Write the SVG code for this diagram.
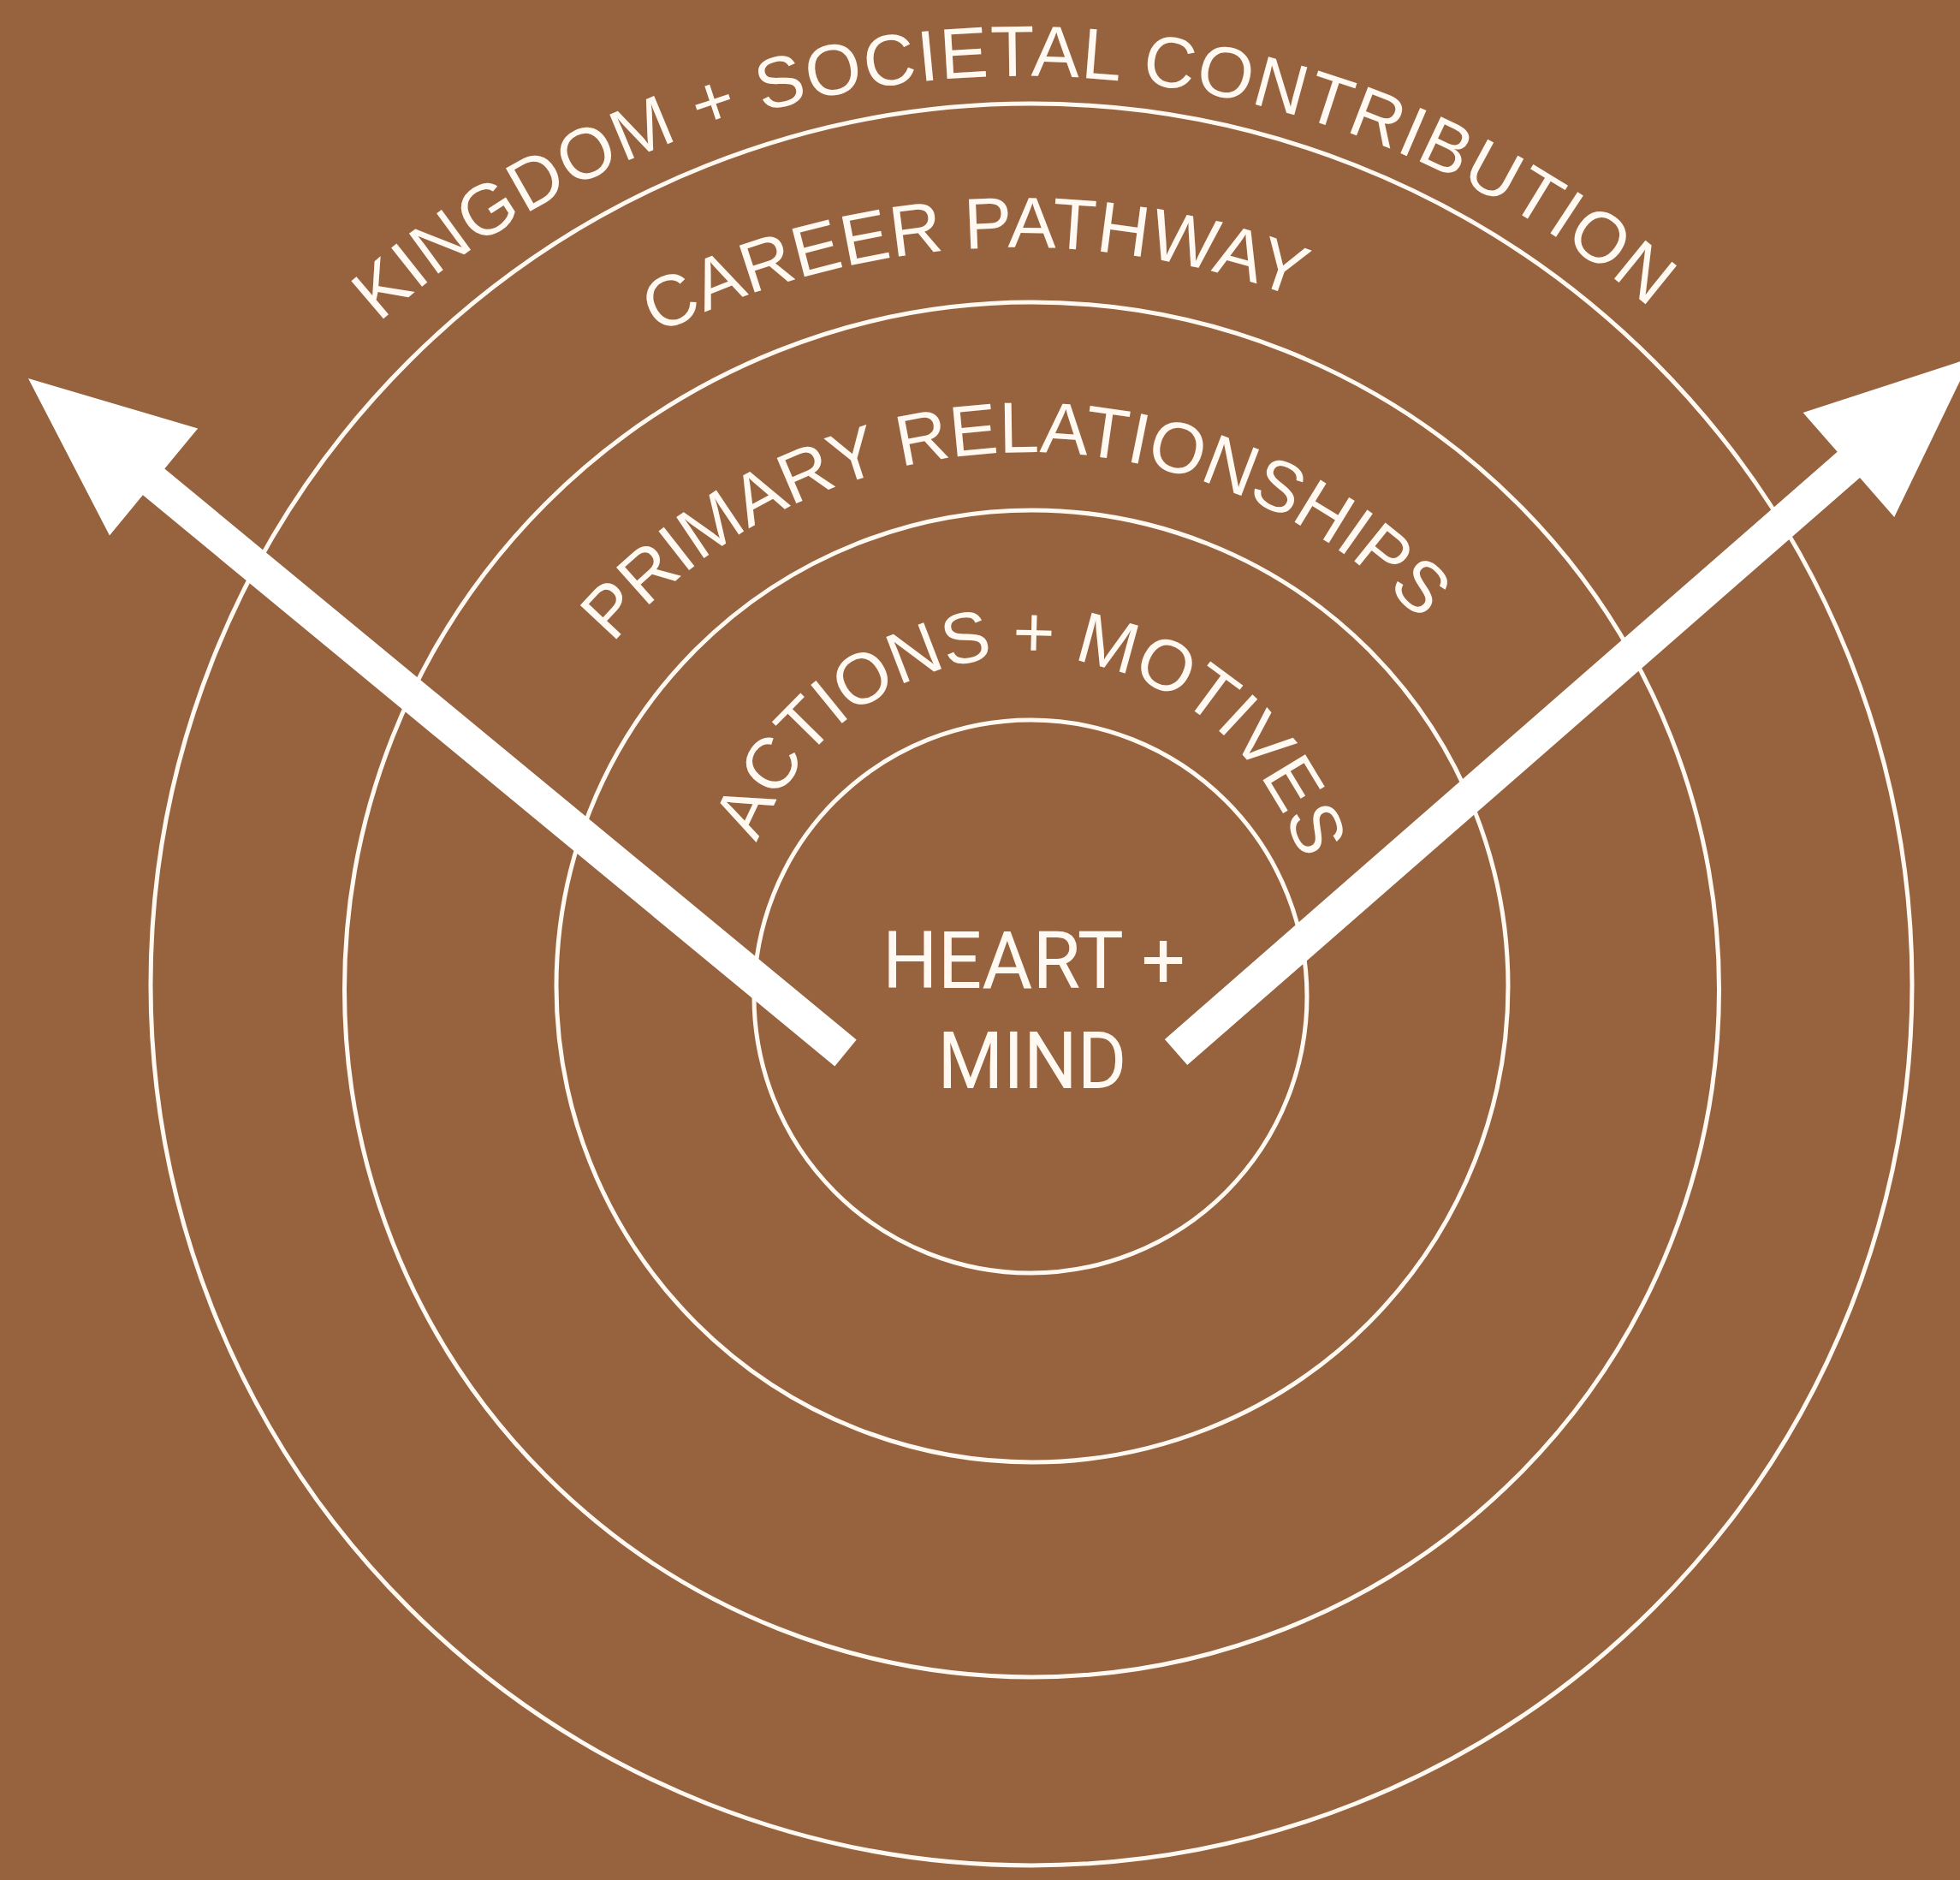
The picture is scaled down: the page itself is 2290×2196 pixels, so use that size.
<svg xmlns="http://www.w3.org/2000/svg" xmlns:xlink="http://www.w3.org/1999/xlink" width="2290" height="2196" viewBox="0 0 2290 2196">
  <style>
    .ring { fill: none; stroke: #FFF9F2; stroke-width: 5; }
    .arc-label { fill: #FFF9F2; font-family: "Liberation Sans", Arial, sans-serif; font-size: 84px; text-rendering: geometricPrecision; }
    .center-label { fill: #FFF9F2; font-family: Roboto, "Liberation Sans", sans-serif; font-size: 93px; text-anchor: middle; }
    .arrow { fill: #FFFFFF; }
  </style>
  <defs>
    <path id="p-outer" d="M 443 377 A 1126 1126 0 0 1 1928 360"/>
    <path id="p-career" d="M 768 391 A 924 924 0 0 1 1515 348"/>
    <path id="p-primary" d="M 716 752 A 636 636 0 0 1 1660 725"/>
    <path id="p-actions" d="M 884.5 984.8 A 336 336 0 0 1 1520.3 1004.8"/>
  </defs>
  <rect id="background" x="0" y="0" width="2290" height="2196" fill="#97633F"/>

  <g id="ring-kingdom">
    <circle class="ring" cx="1205" cy="1150" r="1029"/>
    <text class="arc-label"><textPath xlink:href="#p-outer" href="#p-outer" textLength="1621">KINGDOM + SOCIETAL CONTRIBUTION</textPath></text>
  </g>
  <g id="ring-career">
    <circle class="ring" cx="1205.5" cy="1156" r="803"/>
    <text class="arc-label"><textPath xlink:href="#p-career" href="#p-career" textLength="771">CAREER PATHWAY</textPath></text>
  </g>
  <g id="ring-primary">
    <circle class="ring" cx="1206" cy="1152" r="556"/>
    <text class="arc-label"><textPath xlink:href="#p-primary" href="#p-primary" textLength="1065">PRIMARY RELATIONSHIPS</textPath></text>
  </g>
  <g id="ring-actions">
    <circle class="ring" cx="1204" cy="1164" r="323"/>
    <text class="arc-label"><textPath xlink:href="#p-actions" href="#p-actions" textLength="835">ACTIONS + MOTIVES</textPath></text>
  </g>
  <g id="heart-mind">
    <text class="center-label" x="1208" y="1154" textLength="354" lengthAdjust="spacingAndGlyphs">HEART +</text>
    <text class="center-label" x="1206" y="1271" textLength="221" lengthAdjust="spacingAndGlyphs">MIND</text>
  </g>

  <g id="connectors">
    <polygon class="arrow" points="1000.7,1214.6 192.3,547.5 231.2,500.4 33,442 128.0,625.4 166.9,578.3 975.3,1245.4"/>
    <polygon class="arrow" points="1387.2,1244.1 2173.0,558.0 2213.2,603.9 2303,418 2106.6,481.9 2146.7,527.8 1360.9,1213.9"/>
  </g>
</svg>
